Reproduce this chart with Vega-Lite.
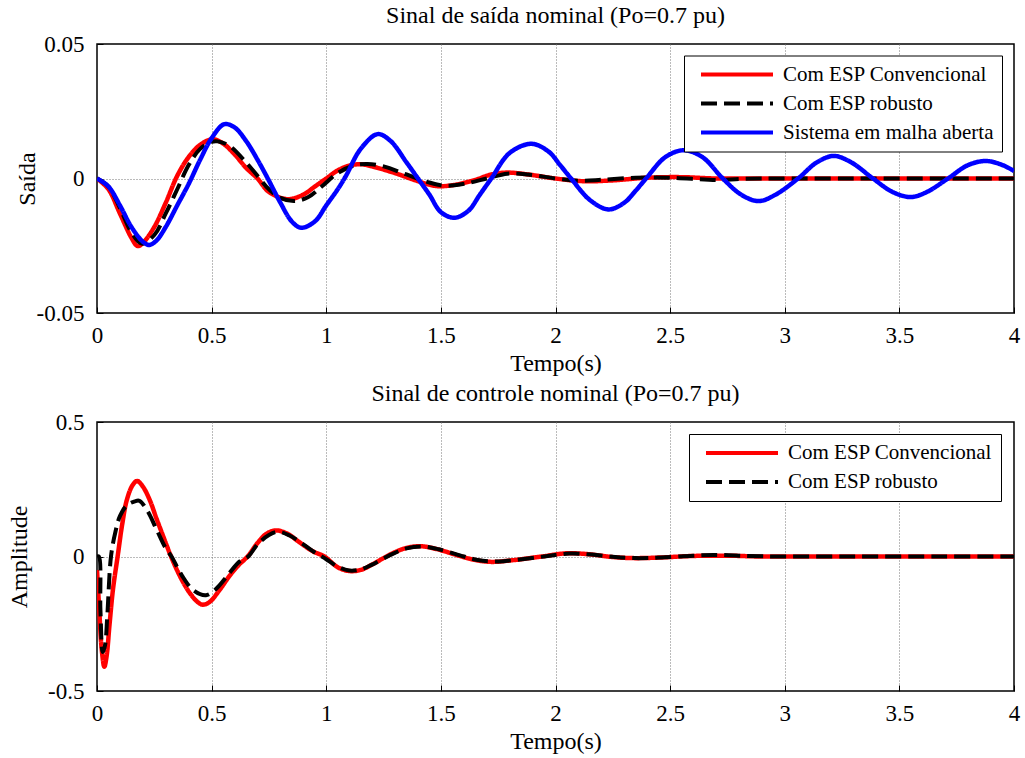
{
  "$schema": "https://vega.github.io/schema/vega-lite/v6.json",
  "padding": {"left": 6, "top": 3, "right": 0, "bottom": 0},
  "bounds": "flush",
  "spacing": 109,
  "background": "white",
  "config": {
    "font": "Liberation Serif",
    "view": {"stroke": "black", "strokeWidth": 1.5},
    "axis": {
      "labelFont": "Liberation Serif", "labelFontSize": 23, "labelColor": "black",
      "titleFont": "Liberation Serif", "titleFontSize": 24, "titleFontWeight": "normal", "titleColor": "black",
      "domain": false, "ticks": true, "tickSize": -6, "tickColor": "black", "tickWidth": 1,
      "gridColor": "#777777", "gridDash": [1, 2], "gridWidth": 1,
      "labelExpr": "'' + datum.value", "labelFlush": false, "labelOverlap": false, "labelBound": false
    },
    "axisX": {"labelBaseline": "alphabetic", "labelPadding": 35, "titleBaseline": "alphabetic", "titleX": 458.5, "titleY": 57},
    "axisY": {"labelPadding": 19, "titleBaseline": "alphabetic", "titleY": 134.5},
    "title": {"font": "Liberation Serif", "fontSize": 24, "fontWeight": "normal", "color": "black", "offset": 5, "baseline": "alphabetic", "anchor": "middle", "frame": "group"},
    "legend": {
      "orient": "none", "title": null,
      "labelFont": "Liberation Serif", "labelFontSize": 21, "labelColor": "black", "labelLimit": 500,
      "symbolType": "stroke", "symbolSize": 5184, "symbolStrokeWidth": 4,
      "strokeColor": "black", "fillColor": "white", "padding": 8,
      "rowPadding": 7, "clipHeight": 22, "labelOffset": 8, "symbolOffset": 7
    }
  },
  "resolve": {"scale": {"color": "independent", "strokeDash": "independent"}},
  "datasets": {
    "saida": [
      {"s": "Com ESP Convencional", "t": 0, "v": 0},
      {"s": "Com ESP Convencional", "t": 0.05, "v": -0.004},
      {"s": "Com ESP Convencional", "t": 0.1, "v": -0.013},
      {"s": "Com ESP Convencional", "t": 0.15, "v": -0.022},
      {"s": "Com ESP Convencional", "t": 0.177, "v": -0.0251},
      {"s": "Com ESP Convencional", "t": 0.2, "v": -0.024},
      {"s": "Com ESP Convencional", "t": 0.25, "v": -0.018},
      {"s": "Com ESP Convencional", "t": 0.3, "v": -0.009},
      {"s": "Com ESP Convencional", "t": 0.35, "v": 0.001},
      {"s": "Com ESP Convencional", "t": 0.4, "v": 0.008},
      {"s": "Com ESP Convencional", "t": 0.45, "v": 0.0125},
      {"s": "Com ESP Convencional", "t": 0.504, "v": 0.0146},
      {"s": "Com ESP Convencional", "t": 0.55, "v": 0.013},
      {"s": "Com ESP Convencional", "t": 0.6, "v": 0.009},
      {"s": "Com ESP Convencional", "t": 0.65, "v": 0.004},
      {"s": "Com ESP Convencional", "t": 0.7, "v": 0.0},
      {"s": "Com ESP Convencional", "t": 0.75, "v": -0.005},
      {"s": "Com ESP Convencional", "t": 0.832, "v": -0.0077},
      {"s": "Com ESP Convencional", "t": 0.9, "v": -0.006},
      {"s": "Com ESP Convencional", "t": 0.95, "v": -0.003},
      {"s": "Com ESP Convencional", "t": 1.0, "v": 0.0},
      {"s": "Com ESP Convencional", "t": 1.05, "v": 0.003},
      {"s": "Com ESP Convencional", "t": 1.1, "v": 0.0048},
      {"s": "Com ESP Convencional", "t": 1.152, "v": 0.0053},
      {"s": "Com ESP Convencional", "t": 1.2, "v": 0.0045},
      {"s": "Com ESP Convencional", "t": 1.3, "v": 0.002},
      {"s": "Com ESP Convencional", "t": 1.4, "v": -0.001},
      {"s": "Com ESP Convencional", "t": 1.48, "v": -0.0028},
      {"s": "Com ESP Convencional", "t": 1.55, "v": -0.0025},
      {"s": "Com ESP Convencional", "t": 1.65, "v": -0.0005},
      {"s": "Com ESP Convencional", "t": 1.72, "v": 0.0015},
      {"s": "Com ESP Convencional", "t": 1.79, "v": 0.0022},
      {"s": "Com ESP Convencional", "t": 1.88, "v": 0.0015},
      {"s": "Com ESP Convencional", "t": 2.0, "v": 0.0},
      {"s": "Com ESP Convencional", "t": 2.12, "v": -0.001},
      {"s": "Com ESP Convencional", "t": 2.25, "v": -0.0007},
      {"s": "Com ESP Convencional", "t": 2.4, "v": 0.0003},
      {"s": "Com ESP Convencional", "t": 2.55, "v": 0.0005},
      {"s": "Com ESP Convencional", "t": 2.7, "v": 0.0},
      {"s": "Com ESP Convencional", "t": 2.9, "v": 0.0},
      {"s": "Com ESP Convencional", "t": 3.3, "v": 0.0},
      {"s": "Com ESP Convencional", "t": 3.7, "v": 0.0},
      {"s": "Com ESP Convencional", "t": 4.0, "v": 0.0},
      {"s": "Com ESP robusto", "t": 0, "v": 0},
      {"s": "Com ESP robusto", "t": 0.05, "v": -0.003},
      {"s": "Com ESP robusto", "t": 0.1, "v": -0.011},
      {"s": "Com ESP robusto", "t": 0.15, "v": -0.02},
      {"s": "Com ESP robusto", "t": 0.195, "v": -0.0242},
      {"s": "Com ESP robusto", "t": 0.25, "v": -0.021},
      {"s": "Com ESP robusto", "t": 0.3, "v": -0.013},
      {"s": "Com ESP robusto", "t": 0.35, "v": -0.004},
      {"s": "Com ESP robusto", "t": 0.4, "v": 0.005},
      {"s": "Com ESP robusto", "t": 0.45, "v": 0.011},
      {"s": "Com ESP robusto", "t": 0.5, "v": 0.0136},
      {"s": "Com ESP robusto", "t": 0.526, "v": 0.0138},
      {"s": "Com ESP robusto", "t": 0.58, "v": 0.012},
      {"s": "Com ESP robusto", "t": 0.65, "v": 0.006},
      {"s": "Com ESP robusto", "t": 0.7, "v": 0.001},
      {"s": "Com ESP robusto", "t": 0.75, "v": -0.004},
      {"s": "Com ESP robusto", "t": 0.8, "v": -0.0072},
      {"s": "Com ESP robusto", "t": 0.86, "v": -0.0084},
      {"s": "Com ESP robusto", "t": 0.92, "v": -0.007},
      {"s": "Com ESP robusto", "t": 0.98, "v": -0.003},
      {"s": "Com ESP robusto", "t": 1.05, "v": 0.002},
      {"s": "Com ESP robusto", "t": 1.12, "v": 0.0048},
      {"s": "Com ESP robusto", "t": 1.18, "v": 0.0054},
      {"s": "Com ESP robusto", "t": 1.25, "v": 0.0045},
      {"s": "Com ESP robusto", "t": 1.35, "v": 0.0015},
      {"s": "Com ESP robusto", "t": 1.45, "v": -0.0015},
      {"s": "Com ESP robusto", "t": 1.52, "v": -0.0027},
      {"s": "Com ESP robusto", "t": 1.6, "v": -0.002},
      {"s": "Com ESP robusto", "t": 1.7, "v": 0.0},
      {"s": "Com ESP robusto", "t": 1.79, "v": 0.0018},
      {"s": "Com ESP robusto", "t": 1.88, "v": 0.0015},
      {"s": "Com ESP robusto", "t": 2.0, "v": 0.0},
      {"s": "Com ESP robusto", "t": 2.1, "v": -0.0008},
      {"s": "Com ESP robusto", "t": 2.2, "v": -0.0005},
      {"s": "Com ESP robusto", "t": 2.35, "v": 0.0003},
      {"s": "Com ESP robusto", "t": 2.5, "v": 0.0003},
      {"s": "Com ESP robusto", "t": 2.65, "v": -0.0004},
      {"s": "Com ESP robusto", "t": 2.72, "v": -0.0006},
      {"s": "Com ESP robusto", "t": 2.8, "v": -0.0002},
      {"s": "Com ESP robusto", "t": 2.9, "v": 0.0},
      {"s": "Com ESP robusto", "t": 3.3, "v": 0.0},
      {"s": "Com ESP robusto", "t": 3.7, "v": 0.0},
      {"s": "Com ESP robusto", "t": 4.0, "v": 0.0},
      {"s": "Sistema em malha aberta", "t": 0, "v": 0},
      {"s": "Sistema em malha aberta", "t": 0.05, "v": -0.003},
      {"s": "Sistema em malha aberta", "t": 0.1, "v": -0.01},
      {"s": "Sistema em malha aberta", "t": 0.15, "v": -0.018},
      {"s": "Sistema em malha aberta", "t": 0.2, "v": -0.0235},
      {"s": "Sistema em malha aberta", "t": 0.228, "v": -0.0247},
      {"s": "Sistema em malha aberta", "t": 0.26, "v": -0.023},
      {"s": "Sistema em malha aberta", "t": 0.3, "v": -0.018},
      {"s": "Sistema em malha aberta", "t": 0.35, "v": -0.01},
      {"s": "Sistema em malha aberta", "t": 0.4, "v": -0.002},
      {"s": "Sistema em malha aberta", "t": 0.45, "v": 0.007},
      {"s": "Sistema em malha aberta", "t": 0.5, "v": 0.015},
      {"s": "Sistema em malha aberta", "t": 0.555, "v": 0.0202},
      {"s": "Sistema em malha aberta", "t": 0.6, "v": 0.019},
      {"s": "Sistema em malha aberta", "t": 0.65, "v": 0.014},
      {"s": "Sistema em malha aberta", "t": 0.7, "v": 0.007},
      {"s": "Sistema em malha aberta", "t": 0.745, "v": 0.0},
      {"s": "Sistema em malha aberta", "t": 0.8, "v": -0.009},
      {"s": "Sistema em malha aberta", "t": 0.85, "v": -0.016},
      {"s": "Sistema em malha aberta", "t": 0.89, "v": -0.0183},
      {"s": "Sistema em malha aberta", "t": 0.95, "v": -0.016},
      {"s": "Sistema em malha aberta", "t": 1.0, "v": -0.01},
      {"s": "Sistema em malha aberta", "t": 1.05, "v": -0.004},
      {"s": "Sistema em malha aberta", "t": 1.086, "v": 0.001},
      {"s": "Sistema em malha aberta", "t": 1.15, "v": 0.011},
      {"s": "Sistema em malha aberta", "t": 1.224, "v": 0.0165},
      {"s": "Sistema em malha aberta", "t": 1.28, "v": 0.014},
      {"s": "Sistema em malha aberta", "t": 1.35, "v": 0.006},
      {"s": "Sistema em malha aberta", "t": 1.4, "v": 0.0},
      {"s": "Sistema em malha aberta", "t": 1.45, "v": -0.006},
      {"s": "Sistema em malha aberta", "t": 1.5, "v": -0.0125},
      {"s": "Sistema em malha aberta", "t": 1.559, "v": -0.0146},
      {"s": "Sistema em malha aberta", "t": 1.62, "v": -0.012},
      {"s": "Sistema em malha aberta", "t": 1.67, "v": -0.006},
      {"s": "Sistema em malha aberta", "t": 1.72, "v": 0.0},
      {"s": "Sistema em malha aberta", "t": 1.8, "v": 0.0095},
      {"s": "Sistema em malha aberta", "t": 1.895, "v": 0.0129},
      {"s": "Sistema em malha aberta", "t": 1.97, "v": 0.01},
      {"s": "Sistema em malha aberta", "t": 2.02, "v": 0.005},
      {"s": "Sistema em malha aberta", "t": 2.068, "v": 0.0},
      {"s": "Sistema em malha aberta", "t": 2.15, "v": -0.008},
      {"s": "Sistema em malha aberta", "t": 2.231, "v": -0.0115},
      {"s": "Sistema em malha aberta", "t": 2.3, "v": -0.009},
      {"s": "Sistema em malha aberta", "t": 2.35, "v": -0.0045},
      {"s": "Sistema em malha aberta", "t": 2.395, "v": 0.0},
      {"s": "Sistema em malha aberta", "t": 2.48, "v": 0.008},
      {"s": "Sistema em malha aberta", "t": 2.559, "v": 0.0105},
      {"s": "Sistema em malha aberta", "t": 2.64, "v": 0.008},
      {"s": "Sistema em malha aberta", "t": 2.73, "v": 0.0},
      {"s": "Sistema em malha aberta", "t": 2.81, "v": -0.006},
      {"s": "Sistema em malha aberta", "t": 2.886, "v": -0.0084},
      {"s": "Sistema em malha aberta", "t": 2.96, "v": -0.006},
      {"s": "Sistema em malha aberta", "t": 3.058, "v": 0.0},
      {"s": "Sistema em malha aberta", "t": 3.14, "v": 0.006},
      {"s": "Sistema em malha aberta", "t": 3.214, "v": 0.0084},
      {"s": "Sistema em malha aberta", "t": 3.29, "v": 0.006},
      {"s": "Sistema em malha aberta", "t": 3.385, "v": 0.0},
      {"s": "Sistema em malha aberta", "t": 3.47, "v": -0.005},
      {"s": "Sistema em malha aberta", "t": 3.55, "v": -0.0069},
      {"s": "Sistema em malha aberta", "t": 3.62, "v": -0.005},
      {"s": "Sistema em malha aberta", "t": 3.712, "v": 0.0},
      {"s": "Sistema em malha aberta", "t": 3.8, "v": 0.005},
      {"s": "Sistema em malha aberta", "t": 3.878, "v": 0.0065},
      {"s": "Sistema em malha aberta", "t": 3.95, "v": 0.005},
      {"s": "Sistema em malha aberta", "t": 4.0, "v": 0.0028}
    ],
    "controle": [
      {"s": "Com ESP Convencional", "t": 0, "v": -0.05},
      {"s": "Com ESP Convencional", "t": 0.01, "v": -0.2},
      {"s": "Com ESP Convencional", "t": 0.02, "v": -0.34},
      {"s": "Com ESP Convencional", "t": 0.032, "v": -0.41},
      {"s": "Com ESP Convencional", "t": 0.042, "v": -0.37},
      {"s": "Com ESP Convencional", "t": 0.055, "v": -0.25},
      {"s": "Com ESP Convencional", "t": 0.07, "v": -0.12},
      {"s": "Com ESP Convencional", "t": 0.09, "v": 0.0},
      {"s": "Com ESP Convencional", "t": 0.11, "v": 0.12},
      {"s": "Com ESP Convencional", "t": 0.13, "v": 0.21},
      {"s": "Com ESP Convencional", "t": 0.155, "v": 0.265},
      {"s": "Com ESP Convencional", "t": 0.175, "v": 0.281},
      {"s": "Com ESP Convencional", "t": 0.2, "v": 0.26},
      {"s": "Com ESP Convencional", "t": 0.23, "v": 0.21},
      {"s": "Com ESP Convencional", "t": 0.26, "v": 0.14},
      {"s": "Com ESP Convencional", "t": 0.3, "v": 0.05},
      {"s": "Com ESP Convencional", "t": 0.323, "v": 0.0},
      {"s": "Com ESP Convencional", "t": 0.36, "v": -0.07},
      {"s": "Com ESP Convencional", "t": 0.4, "v": -0.13},
      {"s": "Com ESP Convencional", "t": 0.44, "v": -0.17},
      {"s": "Com ESP Convencional", "t": 0.461, "v": -0.179},
      {"s": "Com ESP Convencional", "t": 0.49, "v": -0.17},
      {"s": "Com ESP Convencional", "t": 0.53, "v": -0.13},
      {"s": "Com ESP Convencional", "t": 0.58, "v": -0.07},
      {"s": "Com ESP Convencional", "t": 0.62, "v": -0.03},
      {"s": "Com ESP Convencional", "t": 0.657, "v": 0.0},
      {"s": "Com ESP Convencional", "t": 0.7, "v": 0.05},
      {"s": "Com ESP Convencional", "t": 0.74, "v": 0.085},
      {"s": "Com ESP Convencional", "t": 0.781, "v": 0.097},
      {"s": "Com ESP Convencional", "t": 0.83, "v": 0.085},
      {"s": "Com ESP Convencional", "t": 0.88, "v": 0.055},
      {"s": "Com ESP Convencional", "t": 0.94, "v": 0.02},
      {"s": "Com ESP Convencional", "t": 0.992, "v": 0.0},
      {"s": "Com ESP Convencional", "t": 1.05, "v": -0.04},
      {"s": "Com ESP Convencional", "t": 1.1, "v": -0.054},
      {"s": "Com ESP Convencional", "t": 1.15, "v": -0.05},
      {"s": "Com ESP Convencional", "t": 1.2, "v": -0.03},
      {"s": "Com ESP Convencional", "t": 1.28, "v": 0.008},
      {"s": "Com ESP Convencional", "t": 1.35, "v": 0.032},
      {"s": "Com ESP Convencional", "t": 1.413, "v": 0.038},
      {"s": "Com ESP Convencional", "t": 1.48, "v": 0.028},
      {"s": "Com ESP Convencional", "t": 1.59, "v": 0.0},
      {"s": "Com ESP Convencional", "t": 1.65, "v": -0.013},
      {"s": "Com ESP Convencional", "t": 1.72, "v": -0.02},
      {"s": "Com ESP Convencional", "t": 1.8, "v": -0.015},
      {"s": "Com ESP Convencional", "t": 1.94, "v": 0.0},
      {"s": "Com ESP Convencional", "t": 2.05, "v": 0.012},
      {"s": "Com ESP Convencional", "t": 2.15, "v": 0.008},
      {"s": "Com ESP Convencional", "t": 2.25, "v": -0.002},
      {"s": "Com ESP Convencional", "t": 2.34, "v": -0.006},
      {"s": "Com ESP Convencional", "t": 2.45, "v": -0.004},
      {"s": "Com ESP Convencional", "t": 2.6, "v": 0.002},
      {"s": "Com ESP Convencional", "t": 2.75, "v": 0.003},
      {"s": "Com ESP Convencional", "t": 2.9, "v": 0.0},
      {"s": "Com ESP Convencional", "t": 3.3, "v": 0.0},
      {"s": "Com ESP Convencional", "t": 3.7, "v": 0.0},
      {"s": "Com ESP Convencional", "t": 4.0, "v": 0.0},
      {"s": "Com ESP robusto", "t": 0, "v": 0},
      {"s": "Com ESP robusto", "t": 0.008, "v": 0.0},
      {"s": "Com ESP robusto", "t": 0.015, "v": -0.2},
      {"s": "Com ESP robusto", "t": 0.025, "v": -0.355},
      {"s": "Com ESP robusto", "t": 0.035, "v": -0.33},
      {"s": "Com ESP robusto", "t": 0.045, "v": -0.22},
      {"s": "Com ESP robusto", "t": 0.061, "v": 0.0},
      {"s": "Com ESP robusto", "t": 0.08, "v": 0.09},
      {"s": "Com ESP robusto", "t": 0.1, "v": 0.15},
      {"s": "Com ESP robusto", "t": 0.13, "v": 0.19},
      {"s": "Com ESP robusto", "t": 0.165, "v": 0.205},
      {"s": "Com ESP robusto", "t": 0.185, "v": 0.207},
      {"s": "Com ESP robusto", "t": 0.22, "v": 0.17},
      {"s": "Com ESP robusto", "t": 0.26, "v": 0.1},
      {"s": "Com ESP robusto", "t": 0.3, "v": 0.03},
      {"s": "Com ESP robusto", "t": 0.325, "v": 0.0},
      {"s": "Com ESP robusto", "t": 0.37, "v": -0.07},
      {"s": "Com ESP robusto", "t": 0.42, "v": -0.125},
      {"s": "Com ESP robusto", "t": 0.475, "v": -0.144},
      {"s": "Com ESP robusto", "t": 0.52, "v": -0.12},
      {"s": "Com ESP robusto", "t": 0.57, "v": -0.07},
      {"s": "Com ESP robusto", "t": 0.62, "v": -0.02},
      {"s": "Com ESP robusto", "t": 0.66, "v": 0.0},
      {"s": "Com ESP robusto", "t": 0.7, "v": 0.045},
      {"s": "Com ESP robusto", "t": 0.75, "v": 0.08},
      {"s": "Com ESP robusto", "t": 0.79, "v": 0.092},
      {"s": "Com ESP robusto", "t": 0.84, "v": 0.078},
      {"s": "Com ESP robusto", "t": 0.9, "v": 0.045},
      {"s": "Com ESP robusto", "t": 0.95, "v": 0.015},
      {"s": "Com ESP robusto", "t": 1.0, "v": -0.01},
      {"s": "Com ESP robusto", "t": 1.05, "v": -0.038},
      {"s": "Com ESP robusto", "t": 1.1, "v": -0.052},
      {"s": "Com ESP robusto", "t": 1.15, "v": -0.048},
      {"s": "Com ESP robusto", "t": 1.2, "v": -0.03},
      {"s": "Com ESP robusto", "t": 1.28, "v": 0.006},
      {"s": "Com ESP robusto", "t": 1.35, "v": 0.03},
      {"s": "Com ESP robusto", "t": 1.42, "v": 0.037},
      {"s": "Com ESP robusto", "t": 1.49, "v": 0.027},
      {"s": "Com ESP robusto", "t": 1.6, "v": 0.0},
      {"s": "Com ESP robusto", "t": 1.66, "v": -0.013},
      {"s": "Com ESP robusto", "t": 1.73, "v": -0.019},
      {"s": "Com ESP robusto", "t": 1.81, "v": -0.014},
      {"s": "Com ESP robusto", "t": 1.95, "v": 0.0},
      {"s": "Com ESP robusto", "t": 2.06, "v": 0.011},
      {"s": "Com ESP robusto", "t": 2.16, "v": 0.007},
      {"s": "Com ESP robusto", "t": 2.26, "v": -0.002},
      {"s": "Com ESP robusto", "t": 2.35, "v": -0.006},
      {"s": "Com ESP robusto", "t": 2.46, "v": -0.004},
      {"s": "Com ESP robusto", "t": 2.6, "v": 0.003},
      {"s": "Com ESP robusto", "t": 2.69, "v": 0.006},
      {"s": "Com ESP robusto", "t": 2.8, "v": 0.003},
      {"s": "Com ESP robusto", "t": 2.95, "v": 0.0},
      {"s": "Com ESP robusto", "t": 3.3, "v": 0.0},
      {"s": "Com ESP robusto", "t": 3.7, "v": 0.0},
      {"s": "Com ESP robusto", "t": 4.0, "v": 0.0}
    ]
  },
  "vconcat": [
    {
      "title": "Sinal de saída nominal (Po=0.7 pu)",
      "width": 917,
      "height": 269,
      "data": {"name": "saida"},
      "encoding": {
        "x": {"field": "t", "type": "quantitative", "scale": {"domain": [0, 4], "nice": false, "zero": false},
          "axis": {"title": "Tempo(s)", "values": [0, 0.5, 1, 1.5, 2, 2.5, 3, 3.5, 4],
            "gridOpacity": {"condition": {"test": "datum.value > 0 && datum.value < 4", "value": 1}, "value": 0}}},
        "y": {"field": "v", "type": "quantitative", "scale": {"domain": [-0.05, 0.05], "nice": false, "zero": false},
          "axis": {"title": "Saída", "values": [-0.05, 0, 0.05], "titleX": -63,
            "gridOpacity": {"condition": {"test": "datum.value === 0", "value": 1}, "value": 0}}},
        "color": {"field": "s", "type": "nominal",
          "scale": {"domain": ["Com ESP Convencional", "Com ESP robusto", "Sistema em malha aberta"], "range": ["#ff0000", "#000000", "#0000ff"]},
          "legend": {"legendX": 587, "legendY": 11.5}},
        "strokeDash": {"field": "s", "type": "nominal",
          "scale": {"domain": ["Com ESP Convencional", "Com ESP robusto", "Sistema em malha aberta"], "range": [[1, 0], [16, 7], [1, 0]]},
          "legend": {"legendX": 587, "legendY": 11.5}}
      },
      "layer": [
        {"transform": [{"filter": "datum.s === 'Com ESP Convencional'"}], "mark": {"type": "line", "strokeWidth": 4.5, "interpolate": "catmull-rom", "clip": true}},
        {"transform": [{"filter": "datum.s === 'Com ESP robusto'"}], "mark": {"type": "line", "strokeWidth": 4, "interpolate": "catmull-rom", "clip": true}},
        {"transform": [{"filter": "datum.s === 'Sistema em malha aberta'"}], "mark": {"type": "line", "strokeWidth": 4.5, "interpolate": "catmull-rom", "clip": true}}
      ]
    },
    {
      "title": "Sinal de controle nominal (Po=0.7 pu)",
      "width": 917,
      "height": 269,
      "data": {"name": "controle"},
      "encoding": {
        "x": {"field": "t", "type": "quantitative", "scale": {"domain": [0, 4], "nice": false, "zero": false},
          "axis": {"title": "Tempo(s)", "values": [0, 0.5, 1, 1.5, 2, 2.5, 3, 3.5, 4],
            "gridOpacity": {"condition": {"test": "datum.value > 0 && datum.value < 4", "value": 1}, "value": 0}}},
        "y": {"field": "v", "type": "quantitative", "scale": {"domain": [-0.5, 0.5], "nice": false, "zero": false},
          "axis": {"title": "Amplitude", "values": [-0.5, 0, 0.5], "titleX": -71,
            "gridOpacity": {"condition": {"test": "datum.value === 0", "value": 1}, "value": 0}}},
        "color": {"field": "s", "type": "nominal",
          "scale": {"domain": ["Com ESP Convencional", "Com ESP robusto"], "range": ["#ff0000", "#000000"]},
          "legend": {"legendX": 592, "legendY": 12}},
        "strokeDash": {"field": "s", "type": "nominal",
          "scale": {"domain": ["Com ESP Convencional", "Com ESP robusto"], "range": [[1, 0], [16, 7]]},
          "legend": {"legendX": 592, "legendY": 12}}
      },
      "layer": [
        {"transform": [{"filter": "datum.s === 'Com ESP Convencional'"}], "mark": {"type": "line", "strokeWidth": 4.5, "interpolate": "catmull-rom", "clip": true}},
        {"transform": [{"filter": "datum.s === 'Com ESP robusto'"}], "mark": {"type": "line", "strokeWidth": 4, "interpolate": "catmull-rom", "clip": true}}
      ]
    }
  ]
}
